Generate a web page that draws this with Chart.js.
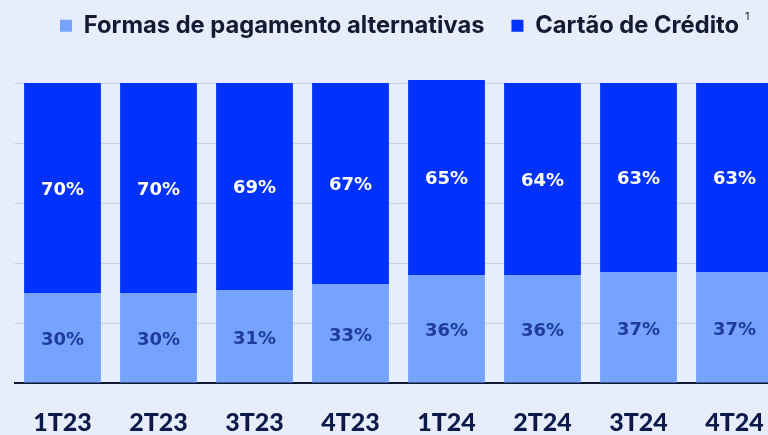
<!DOCTYPE html>
<html>
<head>
<meta charset="utf-8">
<script src="https://cdn.jsdelivr.net/npm/chart.js@4"></script>
<style>
  html, body { margin: 0; padding: 0; width: 768px; height: 435px; overflow: hidden; background: #E7EDFA; }
  #wrap { position: absolute; left: 0; top: 0; width: 820px; height: 435px; }
</style>
</head>
<body>
<div id="wrap"><canvas id="c"></canvas></div>
<script>
const categories = ['1T23', '2T23', '3T23', '4T23', '1T24', '2T24', '3T24', '4T24'];
const alternativas = [30, 30, 31, 33, 36, 36, 37, 37];
const cartao = [70, 70, 69, 67, 65, 64, 63, 63];
const seriesNames = ['Formas de pagamento alternativas', 'Cartão de Crédito'];
const superscript = '1';

const LIGHT = '#75A3FF';
const DARK = '#0032FF';

const valueLabels = {
  id: 'valueLabels',
  afterDatasetsDraw(chart) {
    const ctx = chart.ctx;
    ctx.save();
    ctx.font = 'bold 18px "DejaVu Sans"';
    ctx.textAlign = 'center';
    ctx.textBaseline = 'middle';
    chart.data.datasets.forEach((ds, di) => {
      const meta = chart.getDatasetMeta(di);
      meta.data.forEach((el, i) => {
        const p = el.getProps(['x', 'y', 'base'], true);
        ctx.fillStyle = di === 0 ? '#1F3C98' : '#FFFFFF';
        const off = di === 0 ? 3 : 2;
        ctx.fillText(ds.data[i] + '%', p.x, (p.y + p.base) / 2 + off);
      });
    });
    ctx.restore();
  }
};

const legendSup = {
  id: 'legendSup',
  beforeInit(chart) {
    const lg = chart.legend;
    const orig = lg.fit;
    lg.fit = function () {
      orig.call(this);
      this.height = 96;
    };
  },
  afterDraw(chart) {
    const lg = chart.legend;
    if (!lg || !lg.legendHitBoxes || lg.legendHitBoxes.length < 2) return;
    const hb = lg.legendHitBoxes[1];
    const ctx = chart.ctx;
    ctx.save();
    ctx.font = '11px Inter';
    ctx.fillStyle = '#141A33';
    ctx.textAlign = 'left';
    ctx.textBaseline = 'top';
    ctx.fillText(superscript, hb.left + hb.width + 6, 11);
    ctx.restore();
  }
};

new Chart(document.getElementById('c'), {
  type: 'bar',
  data: {
    labels: categories,
    datasets: [
      { label: seriesNames[0], data: alternativas, backgroundColor: LIGHT, borderWidth: 0, clip: false, barPercentage: 0.8, categoryPercentage: 1 },
      { label: seriesNames[1], data: cartao, backgroundColor: DARK, borderWidth: 0, clip: false, barPercentage: 0.8, categoryPercentage: 1 }
    ]
  },
  options: {
    responsive: true,
    maintainAspectRatio: false,
    animation: false,
    layout: { padding: { left: 14.5, right: 35.5, top: -13, bottom: 0 } },
    plugins: {
      legend: {
        position: 'top',
        align: 'center',
        labels: {
          boxWidth: 12,
          boxHeight: 12,
          padding: 27,
          color: '#141A33',
          font: { family: 'Inter', weight: 'bold', size: 23.7 }
        }
      },
      tooltip: { enabled: false }
    },
    scales: {
      x: {
        stacked: true,
        offset: true,
        grid: { display: false, drawTicks: false },
        border: { display: true, color: '#0F1733', width: 2 },
        ticks: {
          color: '#0B1A4A',
          padding: 27,
          font: { family: 'Lato', weight: 900, size: 25, lineHeight: 1 }
        },
        afterFit(s) { s.height = 52; }
      },
      y: {
        stacked: true,
        position: 'right',
        min: 0,
        max: 100,
        ticks: { display: false, stepSize: 20 },
        grid: {
          drawTicks: false,
          color: (c) => (c.tick && c.tick.value === 0 ? 'rgba(0,0,0,0)' : '#C9CFE0'),
          lineWidth: 1
        },
        border: { display: false },
        afterFit(s) { s.width = 2; }
      }
    }
  },
  plugins: [valueLabels, legendSup]
});
</script>
</body>
</html>
